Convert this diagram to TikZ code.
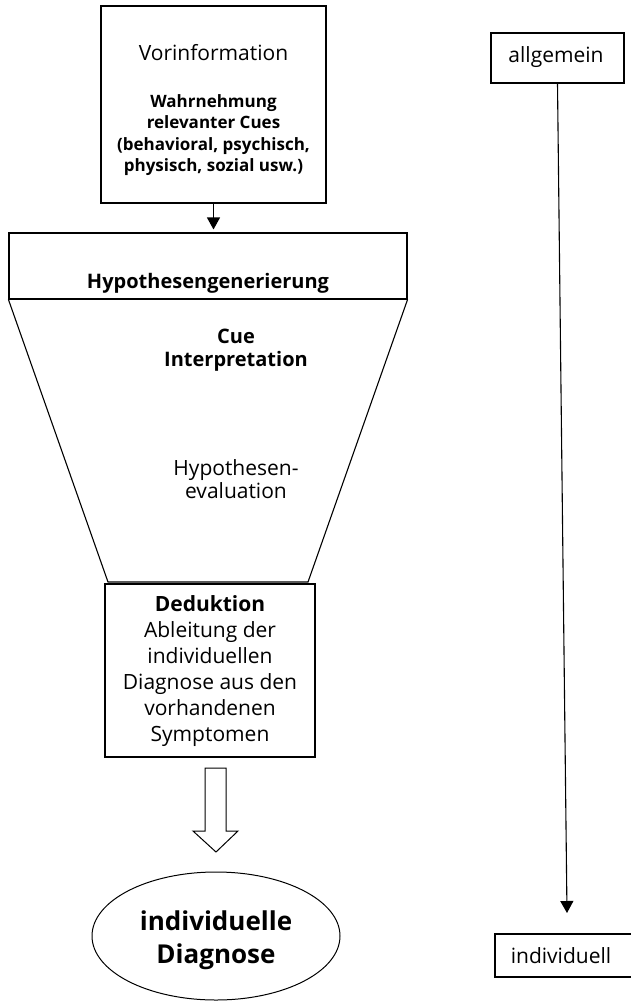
\documentclass[tikz,border=0pt]{standalone}
\usepackage{fontspec}
\setmainfont{Open Sans}
\usetikzlibrary{arrows.meta,shapes.geometric}
\begin{document}
\begin{tikzpicture}[x=1pt, y=-1pt,
  box/.style = {draw, line width=1.1pt, inner sep=0pt},
  txt/.style = {align=center, inner sep=0pt, font=\fontsize{21}{26}\selectfont},
  boldtxt/.style = {align=center, inner sep=0pt, font=\fontsize{20}{23}\selectfont\bfseries},
  tip/.style = {-{Triangle[width=13pt, length=12pt]}, line width=1.1pt}]
\useasboundingbox (0,0) rectangle (630,1002);

% left column: funnel
\node[box, minimum width=225, minimum height=197] (vorinfo) at (213.5,104.5) {};
\node[txt] (vorlbl) at (213.5,53) {Vorinformation};
\node[boldtxt, font=\fontsize{17}{21.5}\selectfont\bfseries] (cues) at (213.5,135) {Wahrnehmung\\relevanter Cues\\(behavioral, psychisch,\\physisch, sozial usw.)};

\node[box, minimum width=398, minimum height=66] (hypgen) at (208,266) {};
\node[boldtxt] (hyplbl) at (208,283) {Hypothesengenerierung};
\draw[tip] (vorinfo.south) -- ([yshift=3pt]vorinfo.south |- hypgen.north);

\coordinate (fbl) at (108,582);
\coordinate (fbr) at (308,582);
\draw[line width=1.1pt] (hypgen.south west) -- (fbl) -- (fbr) -- (hypgen.south east);
\node[boldtxt] (cue) at (236,350) {Cue\\Interpretation};
\node[txt, font=\fontsize{21}{23}\selectfont] (evalu) at (236,479) {Hypothesen-\\evaluation};

\node[box, minimum width=210, minimum height=173] (deduk) at (210,670.5) {};
\node[txt] (dedlbl) at (210,671) {\textbf{Deduktion}\\Ableitung der\\individuellen\\Diagnose aus den\\vorhandenen\\Symptomen};

% hollow arrow
\draw[line width=1pt] (205,768) -- (205,831) -- (193,831) -- (216,852)
  -- (238,831) -- (226,831) -- (226,768) -- cycle;

\node[draw, ellipse, line width=1pt, minimum width=248, minimum height=128, inner sep=0pt] (diag) at (216,936) {};
\node[boldtxt, font=\fontsize{26}{33}\selectfont\bfseries] (diaglbl) at (216,940) {individuelle\\Diagnose};

% right column: scale
\node[box, minimum width=133, minimum height=50] (allg) at (557.5,58) {};
\node[txt] (allglbl) at (556,57) {allgemein};
\node[box, minimum width=145, minimum height=43] (indiv) at (567.5,955.5) {};
\node[txt] (indivlbl) at (561,956) {individuell};
\coordinate (indtip) at (567,913);
\draw[tip] (allg.south) -- (indtip);
\end{tikzpicture}
\end{document}
